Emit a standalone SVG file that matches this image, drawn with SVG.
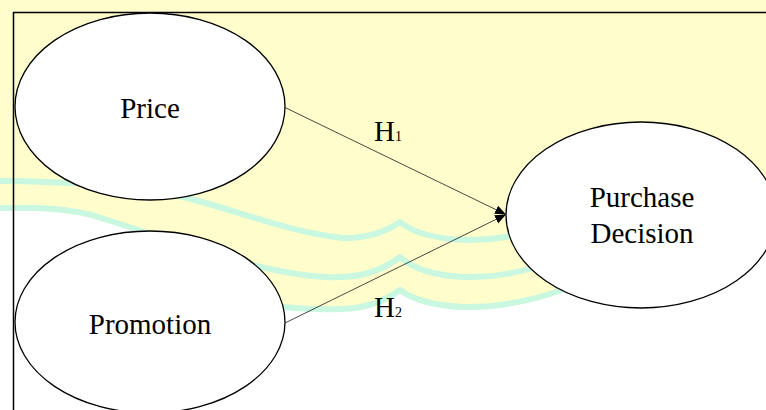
<svg xmlns="http://www.w3.org/2000/svg" width="766" height="410" viewBox="0 0 766 410">
  <style>
    .node { fill: #ffffff; stroke: #000000; stroke-width: 1.3; }
    .lbl { font-family: "Liberation Serif", "Times New Roman", "DejaVu Serif", serif; font-size: 29px; fill: #000000; }
    .sub { font-size: 14px; }
    .edge { stroke: #1a1a1a; stroke-width: 0.8; fill: none; marker-end: url(#arrow); }
    .band { fill: none; stroke: #c9f7df; stroke-width: 6; stroke-linejoin: round; }
  </style>
  <defs>
    <marker id="arrow" viewBox="0 0 11 10" refX="11" refY="5" markerWidth="11" markerHeight="10" markerUnits="userSpaceOnUse" orient="auto">
      <path d="M0,0.5 L11,5 L0,9.5 z" fill="#000000"/>
    </marker>
  </defs>

  <rect width="766" height="410" fill="#ffffff"/>

  <g id="background">
    <path fill="#fffdcc" d="M0,0 H766 V200 L562,290 L513,303 L464,307 L420,301 L400,290 L381,303 L342,309 L283,307 L230,280 L160,237 L147,233 L98,217 L40,208 L0,208 Z"/>
    <path class="band" d="M0,181 L15,181 C80,182 150,188 195,200 C240,212 290,232 342,238 Q375,239 400,222 Q420,238 464,240 Q495,240 520,234"/>
    <path class="band" d="M0,208 L40,208 C70,210 90,214 98,217 C140,230 190,248 244,263 C280,272 315,279 342,277 Q375,276 400,257 Q420,275 464,277 Q500,278 540,266"/>
    <path class="band" d="M260,305 C290,308 320,310 342,309 Q375,308 400,290 Q420,305 464,307 Q510,308 562,290"/>
  </g>

  <rect id="frame" x="13.5" y="12.5" width="800" height="420" fill="none" stroke="#000000" stroke-width="1.5"/>

  <g id="connectors">
    <line class="edge" x1="285" y1="107.5" x2="506" y2="214.5"/>
    <line class="edge" x1="285" y1="323" x2="506" y2="214.5"/>
    <text class="lbl" x="374" y="140.7">H<tspan class="sub">1</tspan></text>
    <text class="lbl" x="374" y="316.7">H<tspan class="sub">2</tspan></text>
  </g>

  <g id="price">
    <ellipse class="node" cx="150" cy="106.5" rx="135" ry="93.5"/>
    <text class="lbl" x="150" y="117.5" text-anchor="middle">Price</text>
  </g>

  <g id="promotion">
    <ellipse class="node" cx="150" cy="322" rx="135" ry="91"/>
    <text class="lbl" x="150" y="334" text-anchor="middle">Promotion</text>
  </g>

  <g id="purchase-decision">
    <ellipse class="node" cx="641" cy="215" rx="135" ry="93"/>
    <text class="lbl" x="642" y="207" text-anchor="middle">Purchase</text>
    <text class="lbl" x="642" y="242.5" text-anchor="middle">Decision</text>
  </g>
</svg>
